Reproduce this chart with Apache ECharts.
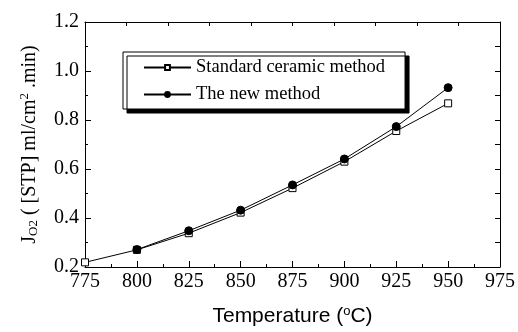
<!DOCTYPE html>
<html lang="en">
<head>
    <meta charset="UTF-8">
    <title>Oxygen flux</title>
    <script src="https://cdn.jsdelivr.net/npm/echarts@6/dist/echarts.min.js"></script>
    <style>
        html, body { margin: 0; padding: 0; background: #fff; }
        #flux_chart { width: 518px; height: 332px; }
    </style>
</head>
<body>
<div id="flux_chart"></div>
<script>
    // temperatures (degC) and measured flux values
    var temps = [775, 800, 825, 850, 875, 900, 925, 950];
    var standardFlux = [0.219, 0.270, 0.338, 0.422, 0.522, 0.630, 0.755, 0.868];
    var newFlux = [null, 0.271, 0.348, 0.432, 0.535, 0.641, 0.773, 0.932];
    var seriesNames = ['Standard ceramic method', 'The new method'];

    function pairs(ys) {
        var out = [];
        for (var i = 0; i < temps.length; i++) {
            if (ys[i] != null) out.push([temps[i], ys[i]]);
        }
        return out;
    }

    var serif = 'Liberation Serif';
    var chartFlux = echarts.init(document.getElementById('flux_chart'));

    var option = {
        animation: false,
        backgroundColor: '#fff',
        grid: { left: 85, right: 18, top: 22, bottom: 60 },
        legend: {
            orient: 'vertical',
            left: 123,
            top: 52,
            padding: [6, 20, 5, 20],
            itemGap: 8,
            itemWidth: 47,
            itemHeight: 6,
            backgroundColor: '#fff',
            borderColor: '#000',
            borderWidth: 1,
            shadowColor: '#000',
            shadowBlur: 0,
            shadowOffsetX: 4,
            shadowOffsetY: 4,
            textStyle: { fontFamily: serif, fontSize: 18.5, color: '#000' },
            data: seriesNames
        },
        xAxis: [
            {
                type: 'value',
                min: 775, max: 975, interval: 25,
                name: '{t|Temperature (}{sup|o}{t|C)}',
                nameLocation: 'middle',
                nameGap: 38,
                nameTextStyle: {
                    rich: {
                        t: { fontFamily: 'Liberation Sans', fontSize: 21, color: '#000' },
                        sup: { fontFamily: 'Liberation Sans', fontSize: 13, color: '#000', padding: [0, 0, 10, 0] }
                    }
                },
                axisLine: { lineStyle: { color: '#000', width: 1 } },
                axisTick: { inside: true, length: 6, lineStyle: { color: '#000' } },
                minorTick: { show: true, splitNumber: 2, length: 3, lineStyle: { color: '#000' } },
                axisLabel: { fontFamily: serif, fontSize: 20, color: '#000', margin: 5 },
                splitLine: { show: false }
            },
            {
                type: 'value',
                position: 'top',
                min: 775, max: 975, interval: 20,
                axisLine: { show: true, lineStyle: { color: '#000', width: 1 } },
                axisTick: { inside: true, length: 4, lineStyle: { color: '#000' } },
                axisLabel: { show: false },
                splitLine: { show: false }
            }
        ],
        yAxis: [
            {
                type: 'value',
                min: 0.2, max: 1.2, interval: 0.2,
                name: '{t|J}{sub|O2}{t| ( [STP] ml/cm}{sup|2}{t| .min)}',
                nameLocation: 'middle',
                nameRotate: 90,
                nameGap: 44,
                nameTextStyle: {
                    rich: {
                        t: { fontFamily: serif, fontSize: 20, color: '#000' },
                        sub: { fontFamily: serif, fontSize: 13, color: '#000', padding: [9, 0, 0, 0] },
                        sup: { fontFamily: serif, fontSize: 13, color: '#000', padding: [0, 0, 10, 0] }
                    }
                },
                axisLine: { show: true, lineStyle: { color: '#000', width: 1 } },
                axisTick: { show: true, inside: true, length: 6, lineStyle: { color: '#000' } },
                minorTick: { show: true, splitNumber: 2, length: 3, lineStyle: { color: '#000' } },
                axisLabel: {
                    fontFamily: serif, fontSize: 20, color: '#000', margin: 6,
                    formatter: function (v) { return v.toFixed(1); }
                },
                splitLine: { show: false }
            },
            {
                type: 'value',
                position: 'right',
                min: 0.2, max: 1.2, interval: 0.1,
                axisLine: { show: true, lineStyle: { color: '#000', width: 1 } },
                axisTick: { show: true, inside: true, length: 5, lineStyle: { color: '#000' } },
                axisLabel: { show: false },
                splitLine: { show: false }
            }
        ],
        series: [
            {
                name: seriesNames[0],
                type: 'line',
                data: pairs(standardFlux),
                symbol: 'rect',
                symbolSize: 7,
                color: '#000',
                itemStyle: { color: '#fff', borderColor: '#000', borderWidth: 1 },
                lineStyle: { color: '#000', width: 1 }
            },
            {
                name: seriesNames[1],
                type: 'line',
                data: pairs(newFlux),
                symbol: 'circle',
                symbolSize: 8,
                color: '#000',
                itemStyle: { color: '#000', borderColor: '#000', borderWidth: 1 },
                lineStyle: { color: '#000', width: 1 }
            }
        ]
    };

    chartFlux.setOption(option);
</script>
</body>
</html>
